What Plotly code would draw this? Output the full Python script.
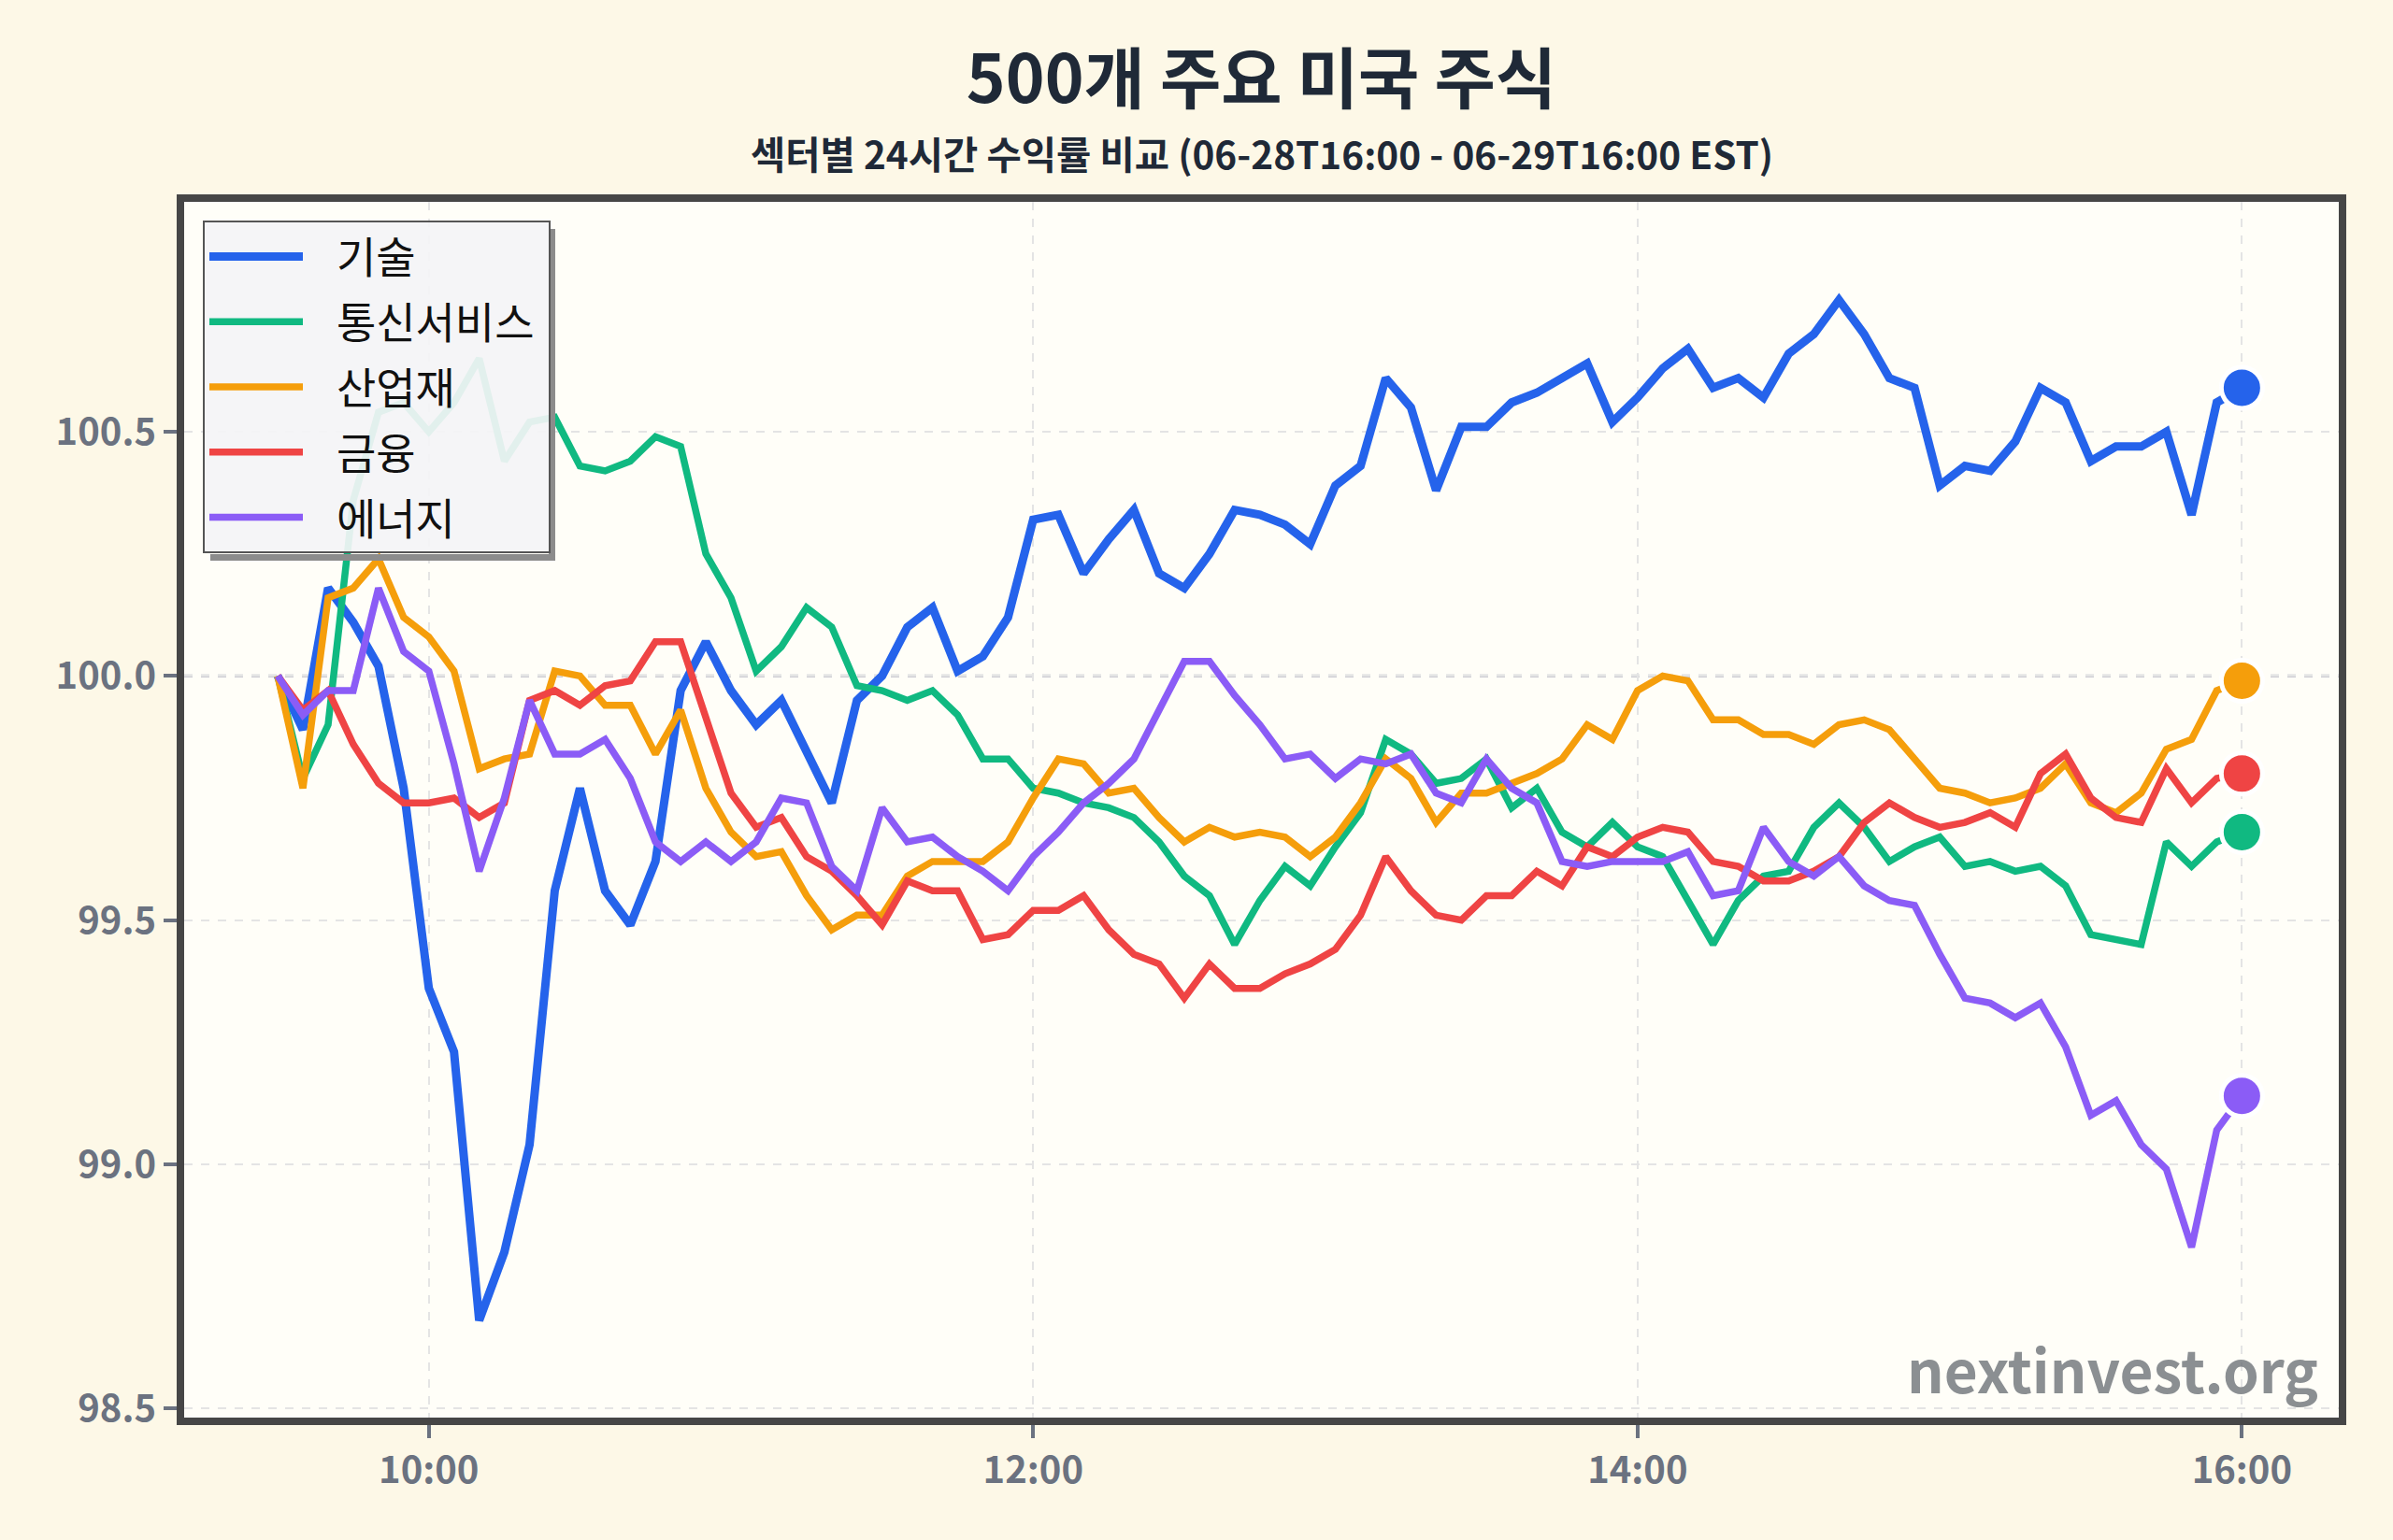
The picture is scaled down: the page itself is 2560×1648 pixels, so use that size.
import plotly.graph_objects as go
import pandas as pd

# ---------------- data ----------------
sectors = ["기술", "통신서비스", "산업재", "금융", "에너지"]
colors = ["#2563eb", "#10b981", "#f59e0b", "#ef4444", "#8b5cf6"]

# 5-minute timestamps, 09:30 -> 16:00
times = pd.date_range("2024-06-29 09:30", "2024-06-29 16:00", freq="5min")

tech = [100.00, 99.89, 100.18, 100.11, 100.02, 99.77, 99.36, 99.23, 98.68, 98.82,
        99.04, 99.56, 99.77, 99.56, 99.49, 99.62, 99.97, 100.07, 99.97, 99.90,
        99.95, 99.84, 99.74, 99.95, 100.00, 100.10, 100.14, 100.01, 100.04, 100.12,
        100.32, 100.33, 100.21, 100.28, 100.34, 100.21, 100.18, 100.25, 100.34, 100.33,
        100.31, 100.27, 100.39, 100.43, 100.61, 100.55, 100.38, 100.51, 100.51, 100.56,
        100.58, 100.61, 100.64, 100.52, 100.57, 100.63, 100.67, 100.59, 100.61, 100.57,
        100.66, 100.70, 100.77, 100.70, 100.61, 100.59, 100.39, 100.43, 100.42, 100.48,
        100.59, 100.56, 100.44, 100.47, 100.47, 100.50, 100.33, 100.56, 100.59]

telecom = [100.00, 99.79, 99.90, 100.36, 100.54, 100.56, 100.50, 100.56, 100.65, 100.44,
           100.52, 100.53, 100.43, 100.42, 100.44, 100.49, 100.47, 100.25, 100.16, 100.01,
           100.06, 100.14, 100.10, 99.98, 99.97, 99.95, 99.97, 99.92, 99.83, 99.83,
           99.77, 99.76, 99.74, 99.73, 99.71, 99.66, 99.59, 99.55, 99.45, 99.54,
           99.61, 99.57, 99.65, 99.72, 99.87, 99.84, 99.78, 99.79, 99.83, 99.73,
           99.77, 99.68, 99.65, 99.70, 99.65, 99.63, 99.54, 99.45, 99.54, 99.59,
           99.60, 99.69, 99.74, 99.69, 99.62, 99.65, 99.67, 99.61, 99.62, 99.60,
           99.61, 99.57, 99.47, 99.46, 99.45, 99.66, 99.61, 99.66, 99.68]

industrials = [100.00, 99.77, 100.16, 100.18, 100.24, 100.12, 100.08, 100.01, 99.81, 99.83,
               99.84, 100.01, 100.00, 99.94, 99.94, 99.84, 99.93, 99.77, 99.68, 99.63,
               99.64, 99.55, 99.48, 99.51, 99.51, 99.59, 99.62, 99.62, 99.62, 99.66,
               99.75, 99.83, 99.82, 99.76, 99.77, 99.71, 99.66, 99.69, 99.67, 99.68,
               99.67, 99.63, 99.67, 99.74, 99.83, 99.79, 99.70, 99.76, 99.76, 99.78,
               99.80, 99.83, 99.90, 99.87, 99.97, 100.00, 99.99, 99.91, 99.91, 99.88,
               99.88, 99.86, 99.90, 99.91, 99.89, 99.83, 99.77, 99.76, 99.74, 99.75,
               99.77, 99.82, 99.74, 99.72, 99.76, 99.85, 99.87, 99.97, 99.99]

financials = [100.00, 99.93, 99.97, 99.86, 99.78, 99.74, 99.74, 99.75, 99.71, 99.74,
              99.95, 99.97, 99.94, 99.98, 99.99, 100.07, 100.07, 99.92, 99.76, 99.69,
              99.71, 99.63, 99.60, 99.55, 99.49, 99.58, 99.56, 99.56, 99.46, 99.47,
              99.52, 99.52, 99.55, 99.48, 99.43, 99.41, 99.34, 99.41, 99.36, 99.36,
              99.39, 99.41, 99.44, 99.51, 99.63, 99.56, 99.51, 99.50, 99.55, 99.55,
              99.60, 99.57, 99.65, 99.63, 99.67, 99.69, 99.68, 99.62, 99.61, 99.58,
              99.58, 99.60, 99.63, 99.70, 99.74, 99.71, 99.69, 99.70, 99.72, 99.69,
              99.80, 99.84, 99.75, 99.71, 99.70, 99.81, 99.74, 99.79, 99.80]

energy = [100.00, 99.92, 99.97, 99.97, 100.18, 100.05, 100.01, 99.82, 99.60, 99.75,
          99.95, 99.84, 99.84, 99.87, 99.79, 99.66, 99.62, 99.66, 99.62, 99.66,
          99.75, 99.74, 99.61, 99.56, 99.73, 99.66, 99.67, 99.63, 99.60, 99.56,
          99.63, 99.68, 99.74, 99.78, 99.83, 99.93, 100.03, 100.03, 99.96, 99.90,
          99.83, 99.84, 99.79, 99.83, 99.82, 99.84, 99.76, 99.74, 99.83, 99.77,
          99.74, 99.62, 99.61, 99.62, 99.62, 99.62, 99.64, 99.55, 99.56, 99.69,
          99.62, 99.59, 99.63, 99.57, 99.54, 99.53, 99.43, 99.34, 99.33, 99.30,
          99.33, 99.24, 99.10, 99.13, 99.04, 98.99, 98.83, 99.07, 99.14]

series = [tech, telecom, industrials, financials, energy]
line_widths = [9, 7.5, 7.5, 7.5, 7.5]

y_ticks = [98.5, 99.0, 99.5, 100.0, 100.5]
x_ticks = ["2024-06-29 10:00", "2024-06-29 12:00", "2024-06-29 14:00", "2024-06-29 16:00"]
x_range = ["2024-06-29 09:11:25", "2024-06-29 16:19:14"]
y_range = [98.481, 100.971]

title_text = "500개 주요 미국 주식"
subtitle_text = "섹터별 24시간 수익률 비교 (06-28T16:00 - 06-29T16:00 EST)"
watermark = "nextinvest.org"

FONT = "Noto Sans CJK KR"
PAD_L = "\u00a0\u00a0\u00a0"   # visual gap between legend sample and label
PAD_R = "\u00a0"               # a little room on the right of the labels

# plot-area geometry (pixels)
L, R, T, B = 197, 58, 216, 131
W, H = 2560, 1648
PW, PH = W - L - R, H - T - B


def px_x(p):
    return (p - L) / PW


def px_y(p):
    return (H - B - p) / PH


# ---------------- figure ----------------
fig = go.Figure()

for name, vals, col, lw in zip(sectors, series, colors, line_widths):
    fig.add_trace(go.Scatter(
        x=times, y=vals, mode="lines", name=PAD_L + name + PAD_R, legendgroup=name,
        line=dict(color=col, width=lw),
    ))

for name, vals, col in zip(sectors, series, colors):
    fig.add_trace(go.Scatter(
        x=[times[-1]], y=[vals[-1]], mode="markers", showlegend=False,
        legendgroup=name, hoverinfo="skip",
        marker=dict(color=col, size=44, line=dict(color="white", width=5)),
    ))

# reference line at 100
fig.add_shape(type="line", xref="paper", x0=0, x1=1, yref="y", y0=100, y1=100,
              line=dict(color="#b9b9c4", width=3, dash="dash"), layer="below")

# legend drop shadow (right and bottom strips)
box_r, box_b = 587, 593
fig.add_shape(type="rect", xref="paper", yref="paper",
              x0=px_x(box_r), x1=px_x(box_r + 7), y0=px_y(box_b + 7), y1=px_y(245),
              line=dict(width=0), fillcolor="#8c8c8c", layer="above")
fig.add_shape(type="rect", xref="paper", yref="paper",
              x0=px_x(225), x1=px_x(box_r + 7), y0=px_y(box_b + 7), y1=px_y(box_b),
              line=dict(width=0), fillcolor="#8c8c8c", layer="above")

fig.update_layout(
    width=W, height=H,
    margin=dict(l=L, r=R, t=T, b=B),
    paper_bgcolor="#fdf8e7",
    plot_bgcolor="#fffef8",
    font=dict(family=FONT, color="#1f2937"),
    title=dict(text=title_text, x=0.5, xref="paper", xanchor="center",
               y=1 - 85 / H, yref="container", yanchor="middle",
               font=dict(family=FONT, size=71, weight=700, color="#1f2937")),
    showlegend=True,
    legend=dict(x=px_x(217), y=px_y(236), xanchor="left", yanchor="top",
                bgcolor="rgba(244,244,246,0.92)", bordercolor="#555555",
                borderwidth=2, font=dict(family=FONT, size=46, color="#111111"),
                itemwidth=100, tracegroupgap=7),
)

axis_common = dict(
    showgrid=True, gridcolor="#e4e4e4", griddash="dash", gridwidth=2,
    showline=True, mirror=True, linecolor="#464646", linewidth=8,
    ticks="outside", ticklen=14, tickwidth=4, tickcolor="#6b7280",
    tickfont=dict(family=FONT, size=40, color="#6b7280", weight=700),
    zeroline=False,
)
fig.update_xaxes(type="date", range=x_range, tickvals=x_ticks, tickformat="%H:%M",
                 **axis_common)
fig.update_yaxes(range=y_range, tickvals=y_ticks, tickformat=".1f", **axis_common)

fig.add_annotation(text=subtitle_text, xref="paper", yref="paper",
                   x=0.5, y=px_y(163), xanchor="center", yanchor="middle",
                   showarrow=False,
                   font=dict(family=FONT, size=40.5, weight=700, color="#1f2937"))

fig.add_annotation(text=watermark, xref="paper", yref="paper",
                   x=px_x(2482), y=px_y(1511), xanchor="right", yanchor="bottom",
                   showarrow=False,
                   font=dict(family=FONT, size=62, weight=700, color="rgba(100,106,112,0.75)"))

fig.write_html("out.html")
